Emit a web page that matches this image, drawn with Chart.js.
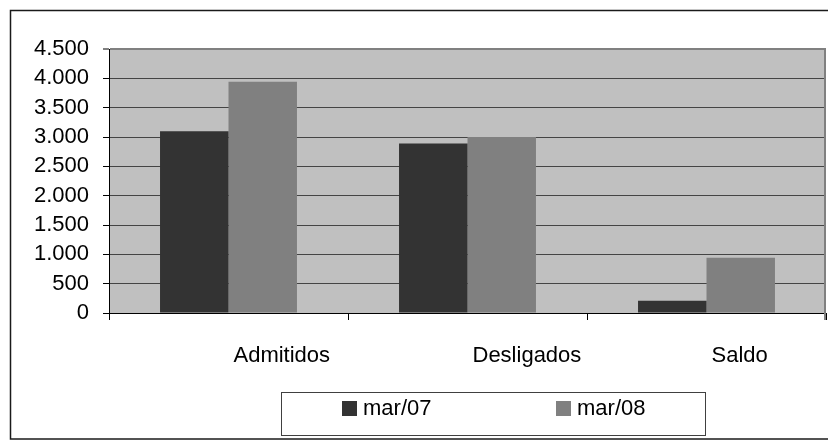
<!DOCTYPE html>
<html>
<head>
<meta charset="utf-8">
<script src="https://cdn.jsdelivr.net/npm/chart.js@4.4.1/dist/chart.umd.min.js"></script>
<style>
  html, body { margin: 0; padding: 0; background: #ffffff; }
  #wrap { width: 828px; height: 441px; position: relative; }
</style>
</head>
<body>
<div id="wrap"><canvas id="c" width="828" height="441"></canvas></div>
<script>
// Categories and series values
const categories = ['Admitidos', 'Desligados', 'Saldo'];
const seriesNames = ['mar/07', 'mar/08'];
const valuesMar07 = [3100, 2890, 210];
const valuesMar08 = [3940, 3000, 940];
const seriesColors = ['#333333', '#808080'];

// Value axis range
const yMin = 0;
const yMax = 4500;
const yStep = 500;

const FONT = "'Liberation Sans', Arial, sans-serif";

function fmtThousands(v) {
  return String(v).replace(/\B(?=(\d{3})+(?!\d))/g, '.');
}

// Grey plot background, outer frame, right plot edge and boxed legend
const framePlugin = {
  id: 'frame',
  beforeDraw(chart) {
    const { ctx, chartArea: a } = chart;
    ctx.save();
    ctx.fillStyle = '#ffffff';
    ctx.fillRect(0, 0, chart.width, chart.height);
    ctx.fillStyle = '#c0c0c0';
    ctx.fillRect(a.left, a.top, a.right - a.left, a.bottom - a.top);
    ctx.restore();
  },
  afterDraw(chart) {
    const { ctx, chartArea: a } = chart;
    ctx.save();
    // plot area right edge
    ctx.strokeStyle = '#808080';
    ctx.lineWidth = 2;
    ctx.beginPath();
    ctx.moveTo(a.right - 1, a.top - 1);
    ctx.lineTo(a.right - 1, a.bottom + 7);
    ctx.stroke();

    // outer chart frame (right side runs past the canvas)
    ctx.strokeStyle = '#1a1a1a';
    ctx.lineWidth = 1.5;
    ctx.strokeRect(10.5, 10.5, 840, 428.5);

    // legend box
    const lx = 281, ly = 392, lw = 424, lh = 43;
    ctx.strokeStyle = '#404040';
    ctx.lineWidth = 1;
    ctx.strokeRect(lx + 0.5, ly + 0.5, lw, lh);
    const itemX = [342, 556];
    ctx.font = '22px ' + FONT;
    ctx.textBaseline = 'middle';
    ctx.textAlign = 'left';
    chart.data.datasets.forEach((ds, i) => {
      ctx.fillStyle = ds.backgroundColor;
      ctx.fillRect(itemX[i], 401, 15, 15);
      ctx.fillStyle = '#000000';
      ctx.fillText(ds.label, itemX[i] + 21, 409);
    });
    ctx.restore();
  }
};

new Chart(document.getElementById('c'), {
  type: 'bar',
  data: {
    labels: categories,
    datasets: [
      { label: seriesNames[0], data: valuesMar07, backgroundColor: seriesColors[0], borderWidth: 0 },
      { label: seriesNames[1], data: valuesMar08, backgroundColor: seriesColors[1], borderWidth: 0 }
    ]
  },
  options: {
    responsive: false,
    animation: false,
    devicePixelRatio: 1,
    layout: { padding: { top: 49, right: 2, left: 0, bottom: 68 } },
    datasets: {
      bar: { categoryPercentage: 0.573, barPercentage: 1.0 }
    },
    plugins: {
      legend: { display: false },
      title: { display: false },
      tooltip: { enabled: false }
    },
    scales: {
      x: {
        z: 1,
        offset: true,
        afterFit(scale) { scale.height = 60; },
        grid: {
          offset: true,
          drawOnChartArea: false,
          drawTicks: true,
          tickLength: 7,
          tickColor: '#000000',
          tickWidth: 1
        },
        border: { display: true, color: '#000000', width: 1 },
        ticks: {
          align: 'start',
          labelOffset: 5,
          padding: 23,
          color: '#000000',
          font: { family: FONT, size: 22 },
          maxRotation: 0,
          autoSkip: false
        }
      },
      y: {
        min: yMin,
        max: yMax,
        afterFit(scale) { scale.width = 109; },
        grid: {
          color: (c) => (c.tick && c.tick.value === yMax ? '#808080' : '#444444'),
          lineWidth: (c) => (c.tick && c.tick.value === yMax ? 2 : 1),
          drawTicks: true,
          tickLength: 6,
          tickColor: '#000000',
          tickWidth: 1
        },
        border: { display: true, color: '#000000', width: 1 },
        ticks: {
          stepSize: yStep,
          autoSkip: false,
          padding: 14,
          color: '#000000',
          font: { family: FONT, size: 22 },
          callback: (v) => fmtThousands(v)
        }
      }
    }
  },
  plugins: [framePlugin]
});
</script>
</body>
</html>
